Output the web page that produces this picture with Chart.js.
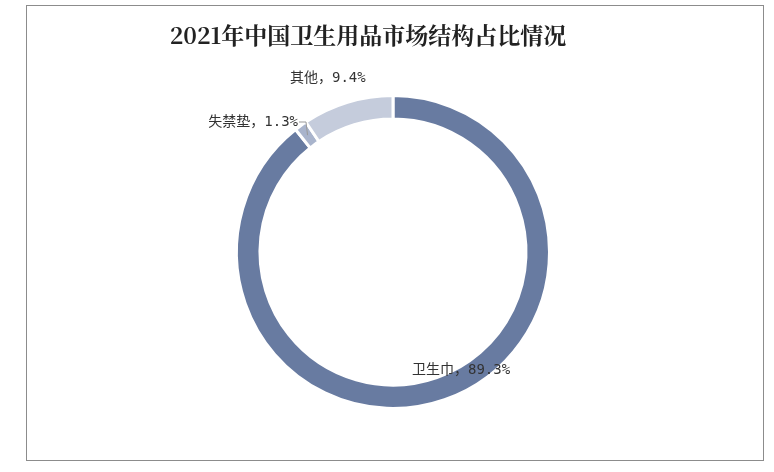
<!DOCTYPE html>
<html><head><meta charset="utf-8">
<script src="https://cdn.jsdelivr.net/npm/chart.js@4/dist/chart.umd.min.js"></script>
<style>
body{margin:0;background:#fff;}
#box{position:absolute;left:26px;top:5px;width:738px;height:456px;border:1px solid #8c8c8c;box-sizing:border-box;}
#wrap{position:absolute;left:0;top:0;width:774px;height:472px;}
</style></head><body>
<div id="box"></div>
<div id="wrap"><canvas id="c" width="774" height="472"></canvas></div>
<script>
var categories = ["卫生巾", "失禁垫", "其他"];
var shares = [89.3, 1.3, 9.4];
var colors = ["#687ba1", "#a9b4cc", "#c5ccdc"];
var chartTitle = "2021年中国卫生用品市场结构占比情况";

// label anchor positions per slice
var labelPos = [[412, 370, "left"], [298, 122, "right"], [290, 78, "left"]];

var labelPlugin = {
    id: "sliceLabels",
    afterDraw: function (chart) {
        var ctx = chart.ctx;
        ctx.save();
        ctx.font = "bold 23px 'Noto Serif CJK SC', 'Noto Sans CJK SC'";
        ctx.fillStyle = "#222";
        ctx.textAlign = "center";
        ctx.textBaseline = "middle";
        ctx.fillText(chartTitle, 368, 35);

        ctx.font = "14px 'DejaVu Sans Mono', 'Noto Sans CJK SC'";
        ctx.fillStyle = "#333";
        categories.forEach(function (name, i) {
            var p = labelPos[i];
            ctx.textAlign = p[2];
            ctx.fillText(name + "，" + shares[i].toFixed(1) + "%", p[0], p[1]);
        });
        var arc = chart.getDatasetMeta(0).data[1];
        var mid = (arc.startAngle + arc.endAngle) / 2;
        var r = (arc.innerRadius + arc.outerRadius) / 2;
        ctx.strokeStyle = "#999";
        ctx.lineWidth = 1;
        ctx.beginPath();
        ctx.moveTo(299, 122);
        ctx.lineTo(306, 122);
        ctx.lineTo(arc.x + Math.cos(mid) * r, arc.y + Math.sin(mid) * r);
        ctx.stroke();
        ctx.restore();
    }
};

new Chart(document.getElementById("c"), {
    type: "doughnut",
    data: {
        labels: categories,
        datasets: [{
            data: shares,
            backgroundColor: colors,
            borderColor: "#fff",
            borderWidth: 3
        }]
    },
    options: {
        responsive: false,
        animation: false,
        cutout: "85%",
        layout: { padding: { left: 235, right: 223, top: 94, bottom: 62 } },
        plugins: {
            legend: { display: false },
            tooltip: { enabled: false },
            title: { display: false }
        }
    },
    plugins: [labelPlugin]
});
</script>
</body></html>
